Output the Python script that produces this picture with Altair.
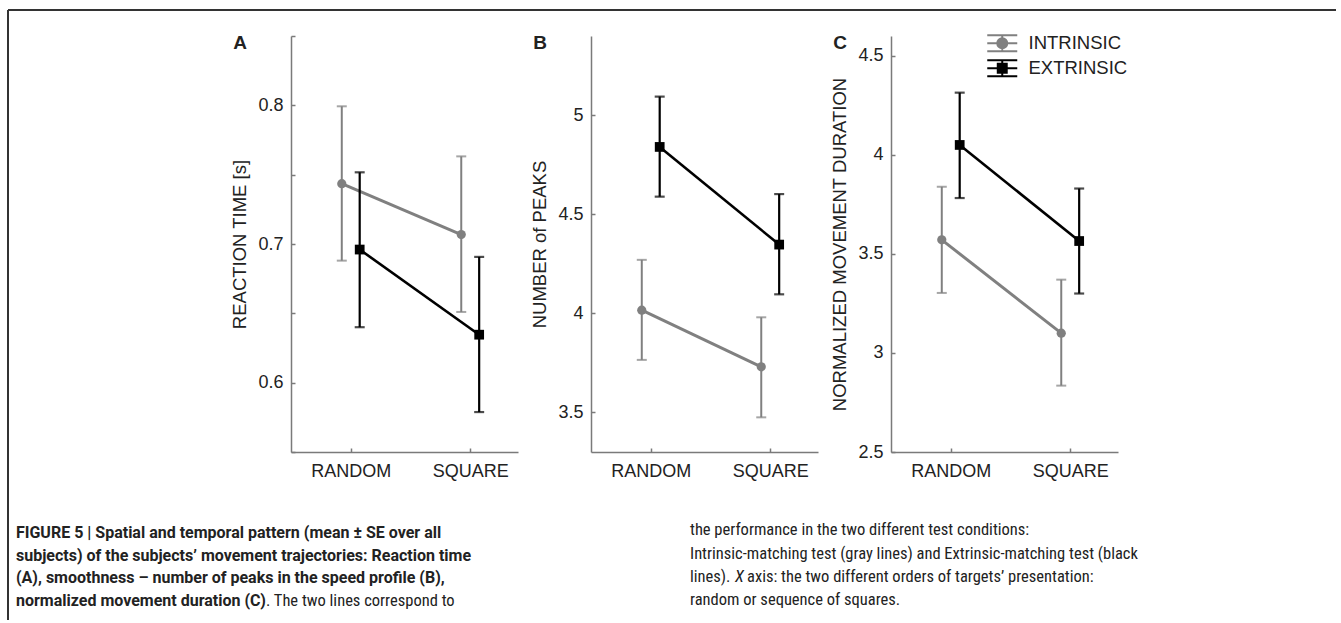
import json
import altair as alt
import pandas as pd

conditions = ["RANDOM", "SQUARE"]
series_names = ["INTRINSIC", "EXTRINSIC"]

# Panel A: reaction time [s]
rt_intrinsic_mean = [0.7435, 0.7068]
rt_intrinsic_low = [0.688, 0.651]
rt_intrinsic_high = [0.7993, 0.7632]
rt_extrinsic_mean = [0.696, 0.6346]
rt_extrinsic_low = [0.640, 0.5788]
rt_extrinsic_high = [0.7517, 0.6907]

# Panel B: number of peaks
pk_intrinsic_mean = [4.016, 3.730]
pk_intrinsic_low = [3.765, 3.475]
pk_intrinsic_high = [4.270, 3.980]
pk_extrinsic_mean = [4.840, 4.347]
pk_extrinsic_low = [4.589, 4.096]
pk_extrinsic_high = [5.094, 4.602]

# Panel C: normalized movement duration
du_intrinsic_mean = [3.571, 3.100]
du_intrinsic_low = [3.303, 2.835]
du_intrinsic_high = [3.839, 3.370]
du_extrinsic_mean = [4.050, 3.565]
du_extrinsic_low = [3.782, 3.300]
du_extrinsic_high = [4.314, 3.830]

panel_titles = ["REACTION TIME [s]", "NUMBER of PEAKS", "NORMALIZED MOVEMENT DURATION"]
panel_letters = ["A", "B", "C"]
y_domains = [[0.55, 0.85], [3.3, 5.4], [2.5, 4.6]]
y_label_values = [[0.6, 0.7, 0.8], [3.5, 4, 4.5, 5], [2.5, 3, 3.5, 4, 4.5]]
y_tick_values = [[0.55, 0.6, 0.65, 0.7, 0.75, 0.8, 0.85], [3.5, 4, 4.5, 5], [2.5, 3, 3.5, 4, 4.5]]

caption_left = [
    "FIGURE 5 | Spatial and temporal pattern (mean \u00b1 SE over all",
    "subjects) of the subjects\u2019 movement trajectories: Reaction time",
    "(A), smoothness \u2013 number of peaks in the speed profile (B),",
]
caption_left_last_bold = "normalized movement duration (C)"
caption_left_last_normal = ". The two lines correspond to"
caption_right = [
    "the performance in the two different test conditions:",
    "Intrinsic-matching test (gray lines) and Extrinsic-matching test (black",
]
caption_right_3 = ["lines).", "X", "axis: the two different orders of targets\u2019 presentation:"]
caption_right_4 = "random or sequence of squares."

W, H = 227, 416
FONT = "Liberation Sans"
CAP_FONT = "Roboto Condensed, Liberation Sans"
CAP_BOLD_FONT = "Roboto, Liberation Sans"
TXT = "#222222"
AXC = "#7a7a7a"


def make_df(im, il, ih, em, el, eh):
    rows = []
    for s, m, l, h in [("INTRINSIC", im, il, ih), ("EXTRINSIC", em, el, eh)]:
        for c, mv, lv, hv in zip(conditions, m, l, h):
            rows.append(dict(series=s, cond=c, mean=mv, low=lv, high=hv))
    return pd.DataFrame(rows)


dfs = [
    make_df(rt_intrinsic_mean, rt_intrinsic_low, rt_intrinsic_high,
            rt_extrinsic_mean, rt_extrinsic_low, rt_extrinsic_high),
    make_df(pk_intrinsic_mean, pk_intrinsic_low, pk_intrinsic_high,
            pk_extrinsic_mean, pk_extrinsic_low, pk_extrinsic_high),
    make_df(du_intrinsic_mean, du_intrinsic_low, du_intrinsic_high,
            du_extrinsic_mean, du_extrinsic_low, du_extrinsic_high),
]

xexpr = ("indexof(%s, datum.cond) + 1 + (datum.series == 'INTRINSIC' ? -0.075 : 0.075)"
         % json.dumps(conditions))
label_expr = "datum.value == 1 ? '%s' : '%s'" % (conditions[0], conditions[1])

PATH_CIRCLE = ("M-1.875,-1H1.875M-1.875,0H1.875M-1.875,1H1.875M0,-1V1"
               "M-0.625,0A0.625,0.625,0,1,0,0.625,0A0.625,0.625,0,1,0,-0.625,0Z")
PATH_SQUARE = ("M-1.875,-1H1.875M-1.875,0H1.875M-1.875,1H1.875M0,-1V1"
               "M-0.56,-0.56H0.56V0.56H-0.56Z")


def one_text(text, x, y, weight="normal", size=16.5, font=CAP_FONT, style="normal", align="left"):
    return alt.Chart(alt.Data(values=[{}])).mark_text(
        text=text, font=font, fontSize=size, fontWeight=weight, fontStyle=style,
        color=TXT, align=align, baseline="middle"
    ).encode(x=alt.value(x), y=alt.value(y))


def panel(i):
    df = dfs[i]
    base = alt.Chart(df).transform_calculate(xpos=xexpr)
    xscale = alt.Scale(domain=[0.5, 2.4], nice=False, zero=False)
    yscale = alt.Scale(domain=y_domains[i], nice=False, zero=False)
    xaxis = alt.Axis(values=[1, 2], labelExpr=label_expr, ticks=False, grid=False,
                     title=None, labelPadding=10)
    yaxis = alt.Axis(values=y_label_values[i], format="~g", ticks=False, grid=False,
                     title=panel_titles[i], labelPadding=8, titlePadding=8)

    def X():
        return alt.X("xpos:Q", scale=xscale, axis=xaxis)

    def Y(field):
        return alt.Y(field + ":Q", scale=yscale, axis=yaxis)

    layers = []
    specs = [("INTRINSIC", "circle", "#808080", 3.0, 2.0, 85),
             ("EXTRINSIC", "square", "#000000", 2.6, 2.2, 95)]
    for s, shape, colr, lw, ew, msize in specs:
        sb = base.transform_filter(alt.datum.series == s)
        layers.append(sb.mark_rule(color=colr, strokeWidth=ew).encode(
            x=X(), y=Y("low"), y2="high:Q"))
        layers.append(sb.mark_tick(color=colr, orient="horizontal", size=10, thickness=ew).encode(
            x=X(), y=Y("low")))
        layers.append(sb.mark_tick(color=colr, orient="horizontal", size=10, thickness=ew).encode(
            x=X(), y=Y("high")))
        layers.append(sb.mark_line(color=colr, strokeWidth=lw).encode(
            x=X(), y=Y("mean"), order="xpos:Q"))
        layers.append(sb.mark_point(shape=shape, filled=True, color=colr, size=msize, opacity=1).encode(
            x=X(), y=Y("mean")))

    layers.append(one_text(panel_letters[i], -51, 7, weight="bold", size=19, font=FONT, align="center"))

    if i == 2:
        leg = alt.Legend(title=None, orient="none", legendX=702, legendY=-2,
                         symbolSize=256, symbolStrokeWidth=2, symbolOpacity=1,
                         labelFont=FONT, labelFontSize=18.5, labelColor=TXT,
                         labelOffset=17, rowPadding=0)
        cscale = alt.Scale(domain=series_names, range=["#808080", "#000000"])
        layers.append(base.mark_point(opacity=0, filled=True).encode(
            x=X(), y=Y("mean"),
            fill=alt.Fill("series:N", scale=cscale, legend=leg),
            stroke=alt.Stroke("series:N", scale=cscale, legend=leg),
            shape=alt.Shape("series:N", scale=alt.Scale(domain=series_names,
                                                         range=[PATH_CIRCLE, PATH_SQUARE]),
                            legend=leg),
        ))

    if i == 0:
        # figure frame
        layers.append(alt.Chart(alt.Data(values=[{}])).mark_rule(color="#333333", strokeWidth=2).encode(
            x=alt.value(-283), y=alt.value(-26), y2=alt.value(584)))
        layers.append(alt.Chart(alt.Data(values=[{}])).mark_rule(color="#333333", strokeWidth=2).encode(
            x=alt.value(-283), x2=alt.value(1045), y=alt.value(-26)))
        # caption
        ly = [497, 520, 542, 565]
        for k, t in enumerate(caption_left):
            layers.append(one_text(t, -275, ly[k], weight="bold", size=16, font=CAP_BOLD_FONT))
        layers.append(one_text(caption_left_last_bold, -275, ly[3], weight="bold", size=16,
                               font=CAP_BOLD_FONT))
        layers.append(one_text(caption_left_last_normal, -25, ly[3]))
        ry = [494, 518, 541, 564]
        for k, t in enumerate(caption_right):
            layers.append(one_text(t, 399, ry[k]))
        layers.append(one_text(caption_right_3[0], 399, ry[2]))
        layers.append(one_text(caption_right_3[1], 444, ry[2], style="italic"))
        layers.append(one_text(caption_right_3[2], 456, ry[2]))
        layers.append(one_text(caption_right_4, 399, ry[3]))

    main = alt.layer(*layers)

    tick_layer = base.mark_point(opacity=0).encode(
        x=alt.X("xpos:Q", scale=xscale,
                axis=alt.Axis(orient="top", offset=-H, values=[1, 2], labels=False, domain=False,
                              ticks=True, tickSize=4, grid=False, title=None)),
        y=alt.Y("mean:Q", scale=yscale,
                axis=alt.Axis(orient="right", offset=-W, values=y_tick_values[i], labels=False,
                              domain=False, ticks=True, tickSize=4, grid=False, title=None)),
    )
    return alt.layer(main, tick_layer).resolve_scale(x="independent", y="independent").properties(
        width=W, height=H)


chart = alt.hconcat(panel(0), panel(1), panel(2), spacing=73, bounds="flush").properties(
    padding={"left": 7, "top": 9, "right": 0, "bottom": 0},
    background="white",
).configure_view(stroke=None).configure_axis(
    labelFont=FONT, titleFont=FONT, labelFontSize=18, titleFontSize=18.5,
    titleFontWeight="normal", labelColor=TXT, titleColor=TXT,
    domainColor=AXC, domainWidth=1.5, tickColor=AXC, tickWidth=1.5,
)

chart.save("out.html", embed_options={"renderer": "svg", "actions": False})
